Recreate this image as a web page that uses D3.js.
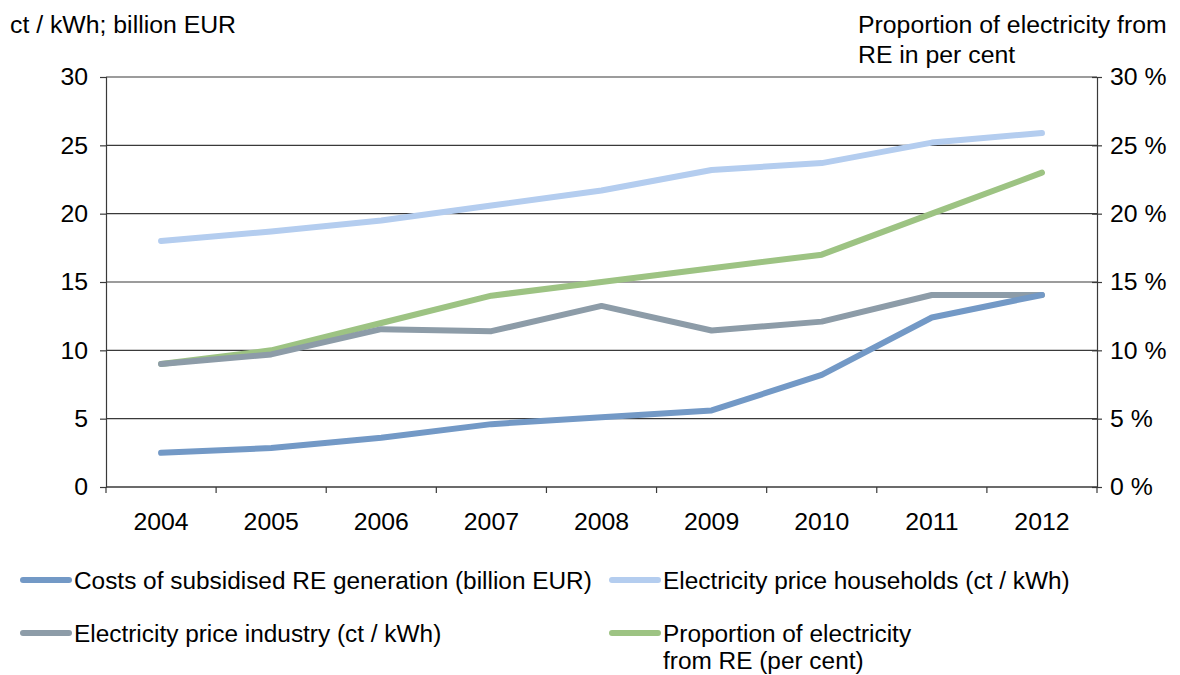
<!DOCTYPE html>
<html><head><meta charset="utf-8">
<script src="https://cdn.jsdelivr.net/npm/d3@7"></script>
<style>body{margin:0;background:#fff}svg text{font-family:"Liberation Sans",Arial,sans-serif}</style>
</head><body><svg id="c" width="1180" height="675"></svg>
<script>
const years = ["2004","2005","2006","2007","2008","2009","2010","2011","2012"];
const costs = [2.5, 2.85, 3.6, 4.6, 5.1, 5.6, 8.2, 12.4, 14.05];
const households = [18.0, 18.7, 19.5, 20.6, 21.7, 23.2, 23.7, 25.2, 25.9];
const industry = [9.0, 9.7, 11.55, 11.4, 13.25, 11.45, 12.1, 14.05, 14.05];
const reShare = [9, 10, 12, 14, 15, 16, 17, 20, 23];
const leftTicks = [0,5,10,15,20,25,30];
const rightTicks = [0,5,10,15,20,25,30];
const seriesNames = ["Costs of subsidised RE generation (billion EUR)","Electricity price households (ct / kWh)","Electricity price industry (ct / kWh)","Proportion of electricity from RE (per cent)"];
const colors = ["#7399c6","#b4cdef","#8d9ca8","#9dc383"];

const FS = 24.8, LFS = 24.4;
const svg = d3.select("#c");
const L=106, R=1097, T=77, B=487;
const x = d3.scaleBand().domain(years).range([L,R]);
const yL = d3.scaleLinear().domain([0,30]).range([B,T]);
const yR = d3.scaleLinear().domain([0,30]).range([B,T]);

svg.append("g").selectAll("line").data(leftTicks).join("line")
  .attr("x1",L).attr("x2",R).attr("y1",d=>yL(d)).attr("y2",d=>yL(d))
  .attr("stroke","#3a3a3a").attr("stroke-width",1.2);

const la = svg.append("g").attr("transform",`translate(${L},0)`)
  .call(d3.axisLeft(yL).tickValues(leftTicks).tickSize(6).tickPadding(12));
const ra = svg.append("g").attr("transform",`translate(${R},0)`)
  .call(d3.axisRight(yR).tickValues(rightTicks).tickSize(5).tickPadding(8).tickFormat(d=>d+" %"));
const ba = svg.append("g").attr("transform",`translate(0,${B})`)
  .call(d3.axisBottom(x).tickSize(0).tickPadding(25));
svg.append("g").selectAll("line").data(years.concat(["end"])).join("line")
  .attr("x1",(d,i)=>L+i*x.step()).attr("x2",(d,i)=>L+i*x.step())
  .attr("y1",B).attr("y2",B+6).attr("stroke","#3a3a3a").attr("stroke-width",1.2);
ra.selectAll(".tick line").attr("x1",-5);

[la,ra,ba].forEach(a=>{
  a.selectAll(".domain").attr("stroke","#3a3a3a").attr("stroke-width",1.2);
  a.selectAll(".tick line").attr("stroke","#3a3a3a").attr("stroke-width",1.2);
  a.selectAll("text").attr("font-size",FS).attr("fill","#000").attr("font-family",null);
});
ba.select(".domain").remove();
svg.append("line").attr("x1",L).attr("x2",R).attr("y1",B).attr("y2",B).attr("stroke","#3a3a3a").attr("stroke-width",1.2);

const cx = d => x(d)+x.bandwidth()/2;
const series = [
  {vals:costs, sc:yL},
  {vals:households, sc:yL},
  {vals:industry, sc:yL},
  {vals:reShare, sc:yR}
];
[1,3,2,0].forEach(k=>{
  const s=series[k];
  const line=d3.line().x((d,i)=>cx(years[i])).y(d=>s.sc(d));
  svg.append("path").attr("d",line(s.vals)).attr("fill","none")
    .attr("stroke",colors[k]).attr("stroke-width",6).attr("stroke-linecap","round").attr("stroke-linejoin","round");
});

svg.append("text").attr("x",10).attr("y",33).attr("font-size",FS).text("ct / kWh; billion EUR");
svg.append("text").attr("x",858).attr("y",33).attr("font-size",FS).text("Proportion of electricity from");
svg.append("text").attr("x",858).attr("y",63).attr("font-size",FS).text("RE in per cent");

const leg = [
  {x:20, y:580, lines:[seriesNames[0]]},
  {x:609, y:580, lines:[seriesNames[1]]},
  {x:20, y:633, lines:[seriesNames[2]]},
  {x:609, y:633, lines:["Proportion of electricity","from RE (per cent)"]}
];
leg.forEach((l,i)=>{
  svg.append("line").attr("x1",l.x+3).attr("x2",l.x+49).attr("y1",l.y).attr("y2",l.y)
    .attr("stroke",colors[i]).attr("stroke-width",6).attr("stroke-linecap","round");
  const t=svg.append("text").attr("x",l.x+54).attr("y",l.y+8.5).attr("font-size",LFS);
  l.lines.forEach((s,j)=>t.append("tspan").attr("x",l.x+54).attr("dy",j?27:0).text(s));
});
</script></body></html>
